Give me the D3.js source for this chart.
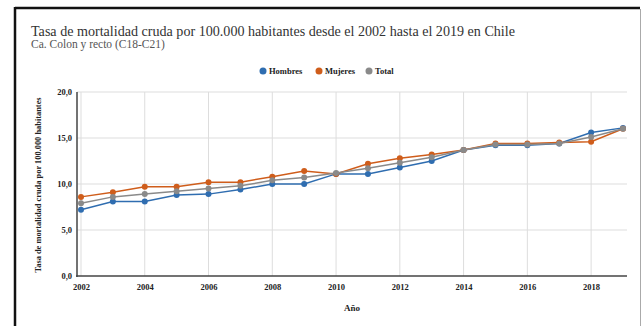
<!DOCTYPE html>
<html>
<head>
<meta charset="utf-8">
<script src="https://cdn.jsdelivr.net/npm/d3@7"></script>
<style>
  body { margin: 0; background: #fff; }
  text { font-family: "Liberation Serif", "Times New Roman", serif; }
</style>
</head>
<body>
<script>
// tasa de mortalidad cruda, ca. colon y recto, Chile 2002-2019

var years = [2002, 2003, 2004, 2005, 2006, 2007, 2008, 2009, 2010, 2011,
             2012, 2013, 2014, 2015, 2016, 2017, 2018, 2019];
var hombres = [7.2, 8.1, 8.1, 8.8, 8.9, 9.4, 10.0, 10.0, 11.1, 11.1,
               11.8, 12.5, 13.7, 14.2, 14.2, 14.4, 15.6, 16.1];
var mujeres = [8.6, 9.1, 9.7, 9.7, 10.2, 10.2, 10.8, 11.4, 11.1, 12.2,
               12.8, 13.2, 13.7, 14.4, 14.4, 14.5, 14.6, 16.0];
var total = [7.9, 8.6, 8.9, 9.2, 9.5, 9.8, 10.4, 10.7, 11.2, 11.7,
             12.3, 12.9, 13.7, 14.3, 14.3, 14.4, 15.1, 16.0];
var seriesNames = ["Hombres", "Mujeres", "Total"];
var yTicks = [0, 5, 10, 15, 20];
var xTicks = [2002, 2004, 2006, 2008, 2010, 2012, 2014, 2016, 2018];

var width = 644;
var height = 326;
var colors = {"Hombres": "#2f6db0", "Mujeres": "#cf5d1b", "Total": "#8a8a8a"};

var svg = d3.select("body")
  .append("svg")
  .attr("width", width)
  .attr("height", height);

// frame of the picture
svg.append("rect")
  .attr("x", 0).attr("y", 0)
  .attr("width", width).attr("height", height)
  .attr("fill", "#fff");
svg.append("line")
  .attr("x1", 15).attr("x2", 640).attr("y1", 8).attr("y2", 8)
  .attr("stroke", "#111").attr("stroke-width", 2.5);
svg.append("line")
  .attr("x1", 15).attr("x2", 15).attr("y1", 7).attr("y2", height)
  .attr("stroke", "#111").attr("stroke-width", 2.5);
svg.append("line")
  .attr("x1", 640.5).attr("x2", 640.5).attr("y1", 9).attr("y2", height)
  .attr("stroke", "#aaa").attr("stroke-width", 1);

// titles
svg.append("text")
  .attr("x", 31).attr("y", 36)
  .attr("font-size", "14.1px")
  .attr("fill", "#333")
  .text("Tasa de mortalidad cruda por 100.000 habitantes desde el 2002 hasta el 2019 en Chile");

svg.append("text")
  .attr("x", 31).attr("y", 48)
  .attr("font-size", "11.5px")
  .attr("fill", "#555")
  .text("Ca. Colon y recto (C18-C21)");

// scales
var x = d3.scaleLinear().domain([2002, 2019]).range([81, 623]);
var y = d3.scaleLinear().domain([0, 20]).range([276, 92]);

// grid
svg.append("g")
  .selectAll("line")
  .data(yTicks.slice(1))
  .enter()
  .append("line")
  .attr("x1", 77).attr("x2", 627)
  .attr("y1", function(d) { return y(d); })
  .attr("y2", function(d) { return y(d); })
  .attr("stroke", "#ddd");

svg.append("g")
  .selectAll("line")
  .data(xTicks)
  .enter()
  .append("line")
  .attr("x1", function(d) { return x(d); })
  .attr("x2", function(d) { return x(d); })
  .attr("y1", y(20)).attr("y2", y(0))
  .attr("stroke", "#ddd");

// axes
var xAxis = d3.axisBottom(x).tickValues(xTicks).tickFormat(d3.format("d")).tickSize(0).tickPadding(8);
svg.append("g")
  .attr("class", "axis")
  .attr("transform", "translate(0," + y(0) + ")")
  .call(xAxis)
  .call(function(g) { g.select(".domain").remove(); });

var yAxis = d3.axisLeft(y).tickValues(yTicks)
  .tickFormat(function(d) { return d3.format(".1f")(d).replace(".", ","); })
  .tickSize(0).tickPadding(5);
svg.append("g")
  .attr("class", "axis")
  .attr("transform", "translate(77,0)")
  .call(yAxis)
  .call(function(g) { g.select(".domain").remove(); });

svg.selectAll(".axis text")
  .attr("font-size", "8.5px")
  .attr("font-weight", "bold")
  .attr("fill", "#222")
  .style("font-family", "'Liberation Serif', serif");

svg.append("line")
  .attr("x1", 77).attr("x2", 77).attr("y1", y(20)).attr("y2", y(0) + 1)
  .attr("stroke", "#444").attr("stroke-width", 1.5);
svg.append("line")
  .attr("x1", 76).attr("x2", 627).attr("y1", y(0)).attr("y2", y(0))
  .attr("stroke", "#444").attr("stroke-width", 1.5);

// axis labels
svg.append("text")
  .attr("x", 352).attr("y", 311)
  .attr("text-anchor", "middle")
  .attr("font-size", "9px")
  .attr("font-weight", "bold")
  .attr("fill", "#222")
  .text("Año");

svg.append("text")
  .attr("text-anchor", "middle")
  .attr("transform", "translate(41,185) rotate(-90)")
  .attr("font-size", "8.4px")
  .attr("font-weight", "bold")
  .attr("fill", "#222")
  .text("Tasa de mortalidad cruda por 100.000 habitantes");

// lines and points
var allSeries = [
  {name: "Hombres", values: hombres},
  {name: "Mujeres", values: mujeres},
  {name: "Total", values: total}
];

var line = d3.line()
  .x(function(d, i) { return x(years[i]); })
  .y(function(d) { return y(d); });

allSeries.forEach(function(s) {
  var g = svg.append("g");
  g.append("path")
    .datum(s.values)
    .attr("d", line)
    .attr("fill", "none")
    .attr("stroke", colors[s.name])
    .attr("stroke-width", 1.5);
  g.selectAll("circle")
    .data(s.values)
    .enter()
    .append("circle")
    .attr("cx", function(d, i) { return x(years[i]); })
    .attr("cy", function(d) { return y(d); })
    .attr("r", 3)
    .attr("fill", colors[s.name]);
});

// legend
var legendX = [263, 319, 369];
var legend = svg.selectAll(".legend")
  .data(seriesNames)
  .enter()
  .append("g")
  .attr("class", "legend")
  .attr("transform", function(d, i) { return "translate(" + legendX[i] + ",71)"; });

legend.append("circle")
  .attr("r", 3.5)
  .attr("fill", function(d) { return colors[d]; });

legend.append("text")
  .attr("x", 6)
  .attr("y", 3)
  .attr("font-size", "8.5px")
  .attr("font-weight", "bold")
  .attr("fill", "#222")
  .text(function(d) { return d; });
</script>
</body>
</html>
